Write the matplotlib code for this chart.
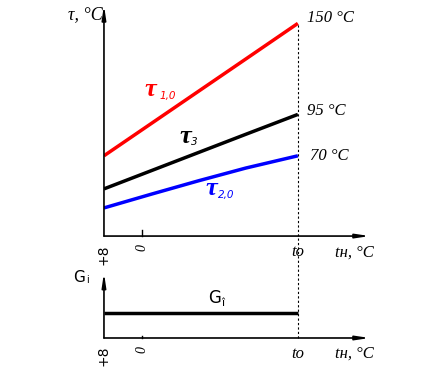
import numpy as np
import matplotlib.pyplot as plt

# outdoor temperature points (x axis runs from +8 down to t_o)
t_n = [8, -2, -12, -22, -33]
tau_1 = [70, 89.5, 109, 128.5, 150]     # supply water
tau_3 = [50, 61, 72, 83, 95]            # mixed water
tau_2 = [38.5, 46.8, 54.9, 62.6, 70]    # return water
G_flow = [1, 1]
G_x = [8, -33]

x_ticks = [8, 0, -33]
x_ticklabels = ['+8', '0', 'tо']
end_labels = ['150 °C', '95 °C', '70 °C']

serif = 'Liberation Serif'

fig = plt.figure(figsize=(4.35, 3.7), dpi=100)
ax1 = fig.add_axes([0.239, 0.362, 0.611, 0.624])
ax2 = fig.add_axes([0.239, 0.0865, 0.611, 0.176])

for ax in (ax1, ax2):
    ax.set_xlim(8, -48.2)
    for s in ax.spines.values():
        s.set_visible(False)
    ax.set_xticks([])
    ax.set_yticks([])
    # axes with arrows
    ax.annotate('', xy=(1.0, 0), xytext=(0, 0), xycoords='axes fraction',
                arrowprops=dict(arrowstyle='-|>,head_length=0.8,head_width=0.12',
                                color='black', lw=1.2, shrinkA=0, shrinkB=0))
    ax.annotate('', xy=(0, 1.0), xytext=(0, 0), xycoords='axes fraction',
                arrowprops=dict(arrowstyle='-|>,head_length=0.8,head_width=0.12',
                                color='black', lw=1.2, shrinkA=0, shrinkB=0))

ax1.set_ylim(21.5, 161)
ax2.set_ylim(0, 2.6)

ax1.plot(t_n, tau_1, color='red', lw=2.5, solid_capstyle='butt')
ax1.plot(t_n, tau_3, color='black', lw=2.5, solid_capstyle='butt')
ax1.plot(t_n, tau_2, color='blue', lw=2.5, solid_capstyle='butt')
ax2.plot(G_x, G_flow, color='black', lw=2.5, solid_capstyle='butt')

# dotted line at t_o through both panels
ax1.plot([t_n[-1], t_n[-1]], [21.5, tau_1[-1]], color='black', lw=0.8, ls=(0, (2, 2)))
ax2.plot([t_n[-1], t_n[-1]], [0, 4.1], color='black', lw=0.8, ls=(0, (2, 2)),
         clip_on=False)

# tick marks and labels
for ax, ylo in ((ax1, 21.5), (ax2, 0)):
    yl = -0.035 if ax is ax1 else -0.12
    ax.plot([0, 0], [ylo, ylo + (ax.get_ylim()[1] - ylo) * 0.025], color='black',
            lw=1, clip_on=False)
    ax.text(8, yl, x_ticklabels[0], transform=ax.get_xaxis_transform(), rotation=90,
            ha='center', va='top', fontsize=10, family='DejaVu Sans')
    ax.text(0, yl, x_ticklabels[1], transform=ax.get_xaxis_transform(), rotation=90,
            ha='center', va='top', fontsize=10, family=serif, style='italic')
    ax.text(x_ticks[2], yl, x_ticklabels[2], transform=ax.get_xaxis_transform(),
            ha='center', va='top', fontsize=12, family=serif, style='italic')
    ax.text(-44.9, yl, 'tн, °C', transform=ax.get_xaxis_transform(),
            ha='center', va='top', fontsize=12, family=serif, style='italic')

# y-axis labels
ax1.text(-0.005, 0.96, 'τ, °C', transform=ax1.transAxes, ha='right', va='center',
         fontsize=13, family=serif, style='italic')
ax2.text(13.3, 2.4, 'G', fontsize=11, family='DejaVu Sans', ha='center', va='center',
         clip_on=False)
ax2.text(11.4, 2.3, 'i', fontsize=7, family='DejaVu Sans', ha='center', va='center',
         clip_on=False)

# end values
for val, lab, dy, dx in zip([tau_1[-1], tau_3[-1], tau_2[-1]], end_labels,
                            [3.5, 2, 0], [-35, -35, -35.5]):
    ax1.text(dx, val + dy, lab, ha='left', va='center', fontsize=12,
             family=serif, style='italic')

# curve labels: big tau + small italic subscript
for (tx, ty, sx, sy, sub, col) in [(-1.9, 110.3, -5.4, 106.3, '1,0', 'red'),
                                   (-9.3, 81.9, -11.2, 78.3, '3', 'black'),
                                   (-14.6, 50.2, -17.9, 46.6, '2,0', 'blue')]:
    ax1.text(tx, ty, 'τ', color=col, fontsize=19, family=serif, style='italic',
             weight='bold', ha='center', va='center')
    ax1.text(sx, sy, sub, color=col, fontsize=7.5, family='DejaVu Sans',
             style='italic', ha='center', va='center')

ax2.text(-15.3, 1.6, 'G', fontsize=12, family='DejaVu Sans', ha='center', va='center')
ax2.text(-17.2, 1.38, 'î', fontsize=8, family='DejaVu Sans', ha='center', va='center')

fig.savefig('out.png', dpi=100)
